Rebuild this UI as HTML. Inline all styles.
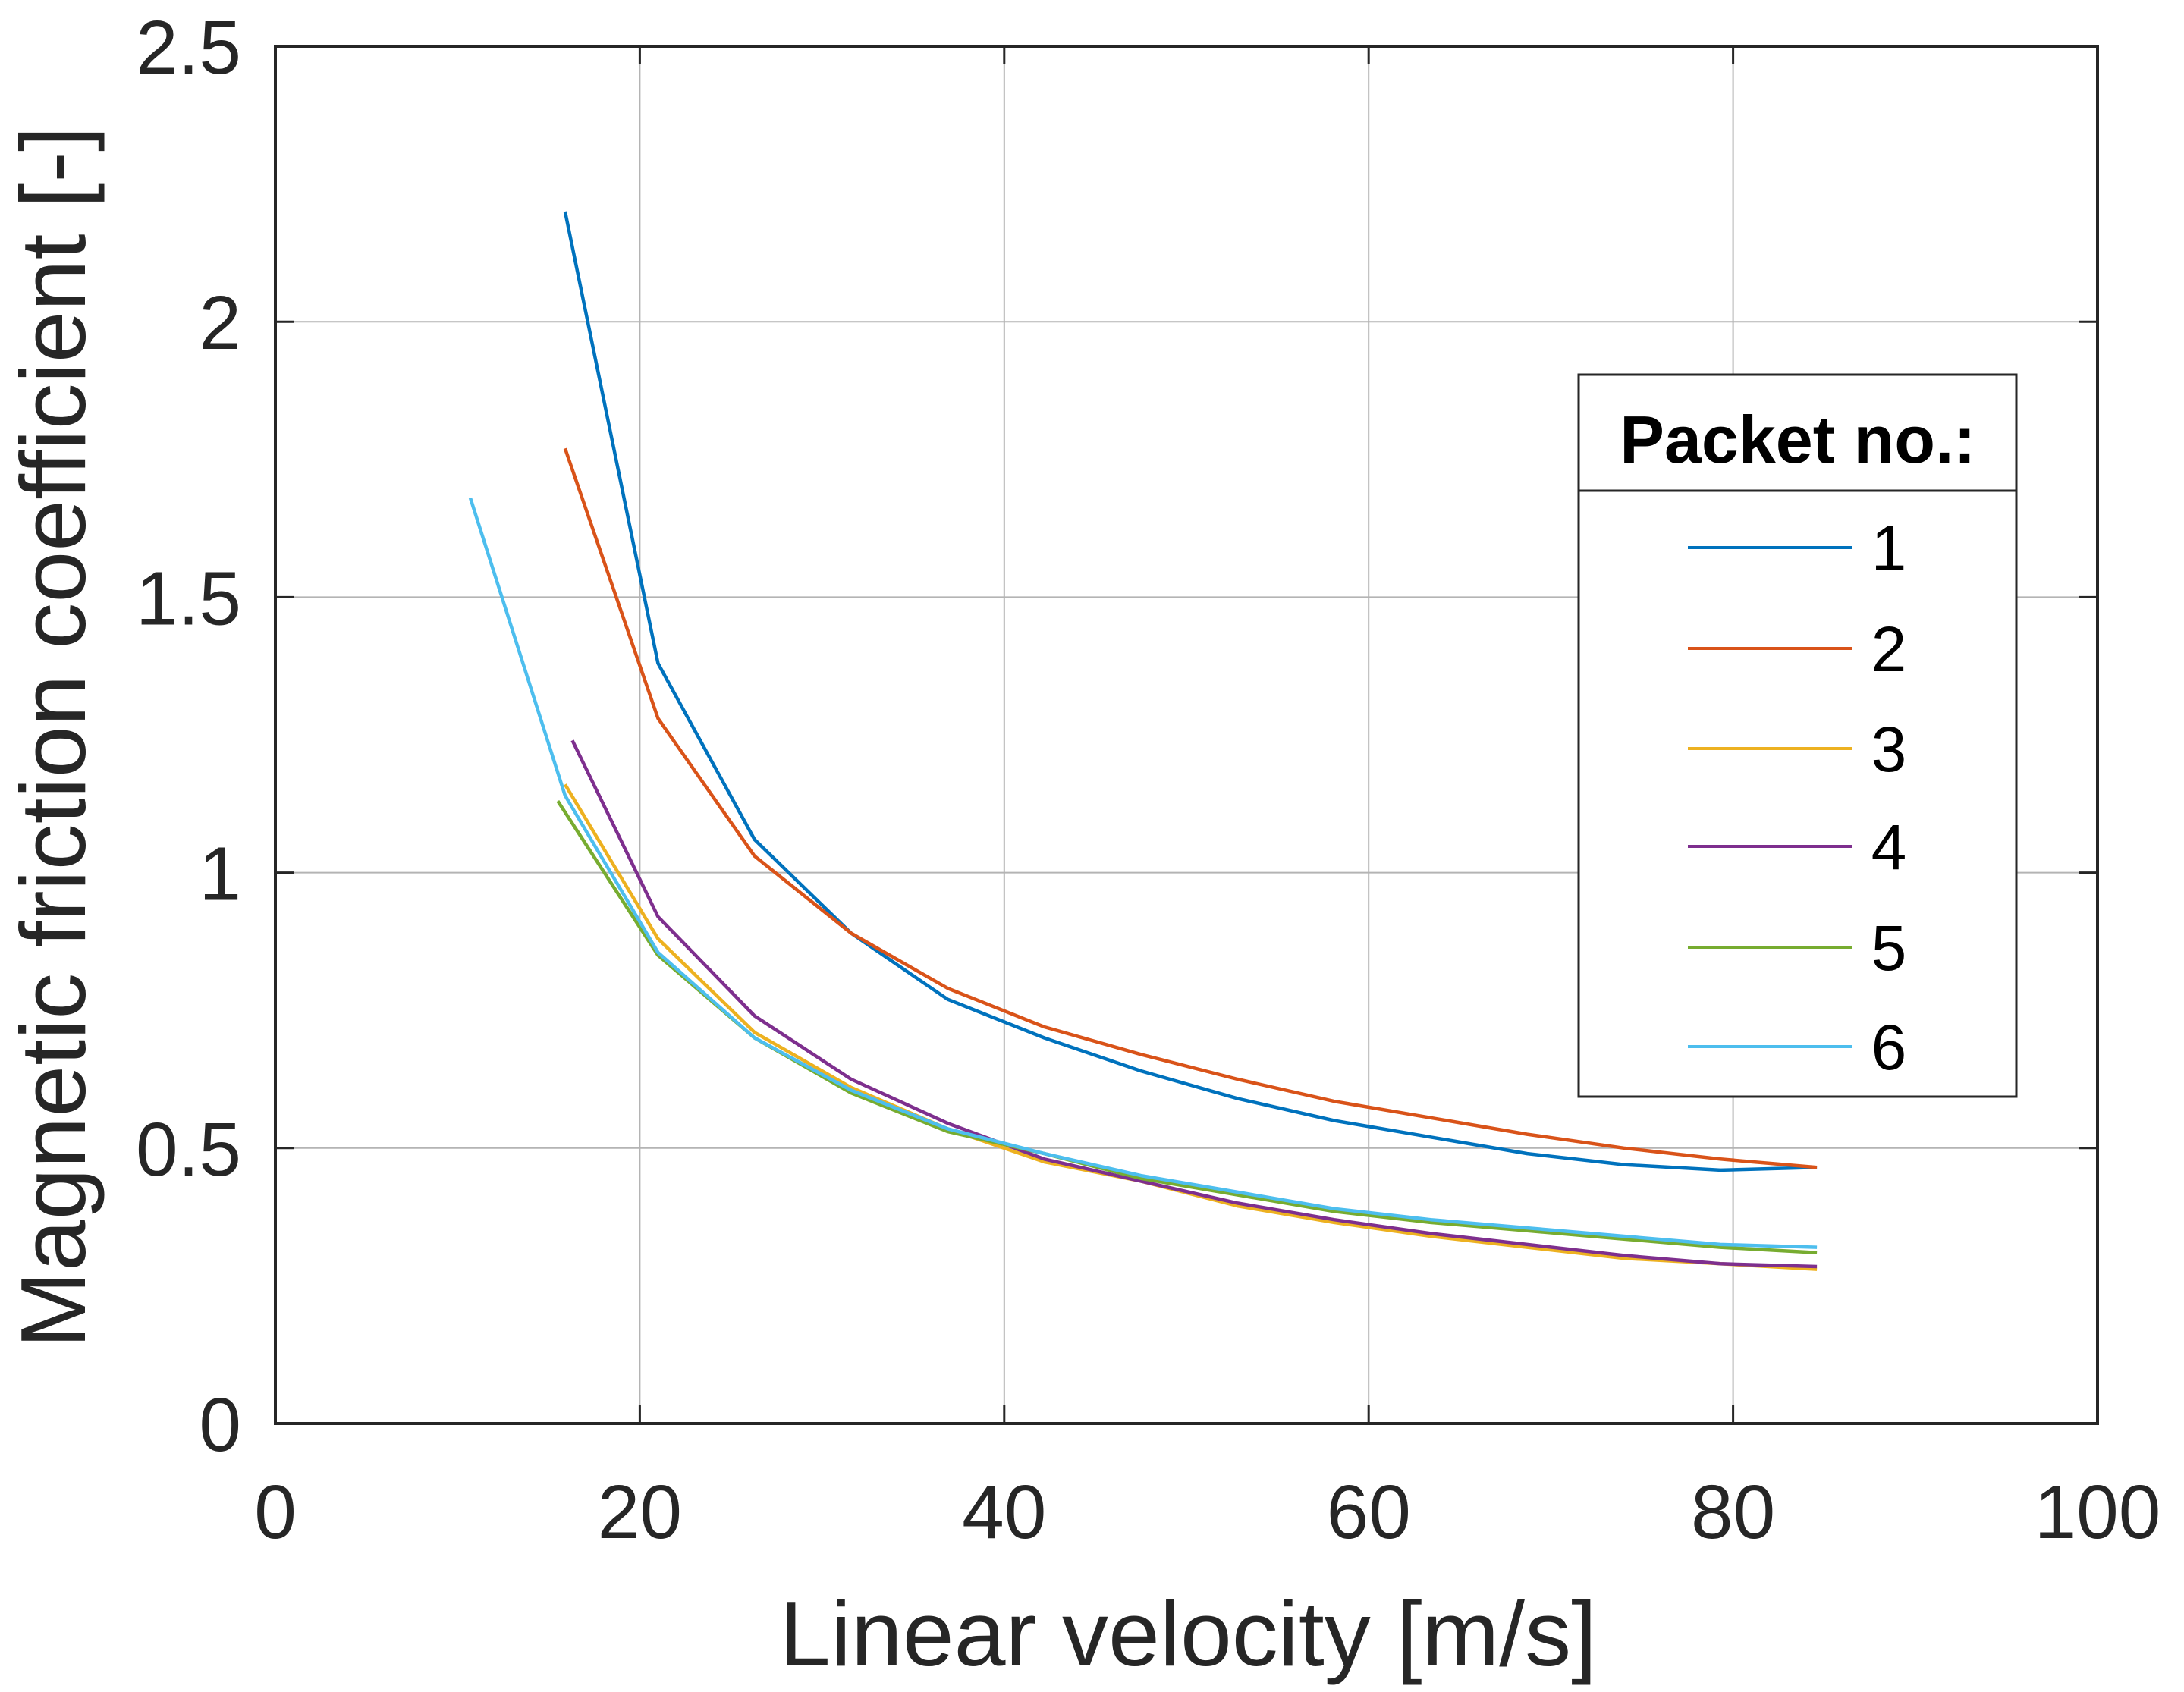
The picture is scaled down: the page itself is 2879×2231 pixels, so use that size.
<!DOCTYPE html>
<html><head><meta charset="utf-8"><style>
body{margin:0;background:#fff}
svg{display:block;font-family:"Liberation Sans",Arial,sans-serif}
</style></head><body>
<svg id="chart" width="2879" height="2231" xmlns="http://www.w3.org/2000/svg">
<rect width="2879" height="2231" fill="#fff"/>
<g id="grid"></g>
<g id="series"></g>
<g id="axes"></g>
<text x="1566" y="2196" font-size="122" text-anchor="middle" fill="#262626">Linear velocity [m/s]</text>
<text transform="translate(112,972) rotate(-90)" font-size="122" text-anchor="middle" fill="#262626">Magnetic friction coefficient [-]</text>
<g id="legend"></g>
</svg>
<script>
const xTicks=[0,20,40,60,80,100];
const yTicks=[0,0.5,1,1.5,2,2.5];
const yTickLabels=["0","0.5","1","1.5","2","2.5"];
const seriesNames=["1","2","3","4","5","6"];
const colors=["#0072BD","#D95319","#EDB120","#7E2F8E","#77AC30","#4DBEEE"];
const xCommon=[15.9,21.0,26.3,31.6,36.9,42.2,47.5,52.8,58.1,63.4,68.7,74.0,79.3,84.6];
const x4=[16.3,21.0,26.3,31.6,36.9,42.2,47.5,52.8,58.1,63.4,68.7,74.0,79.3,84.6];
const x5=[15.5,21.0,26.3,31.6,36.9,42.2,47.5,52.8,58.1,63.4,68.7,74.0,79.3,84.6];
const x6=[10.7,15.9,21.0,26.3,31.6,36.9,42.2,47.5,52.8,58.1,63.4,68.7,74.0,79.3,84.6];
const y1=[2.20,1.38,1.06,0.89,0.77,0.70,0.64,0.59,0.55,0.52,0.49,0.47,0.46,0.465];
const y2=[1.77,1.28,1.03,0.89,0.79,0.72,0.67,0.625,0.585,0.555,0.525,0.50,0.48,0.465];
const y3=[1.16,0.88,0.71,0.61,0.535,0.475,0.44,0.395,0.365,0.34,0.32,0.30,0.29,0.28];
const y4=[1.24,0.92,0.74,0.625,0.545,0.48,0.44,0.40,0.37,0.345,0.325,0.305,0.29,0.285];
const y5=[1.13,0.85,0.70,0.60,0.53,0.49,0.445,0.415,0.385,0.365,0.35,0.335,0.32,0.31];
const y6=[1.68,1.14,0.855,0.70,0.605,0.535,0.49,0.45,0.42,0.39,0.37,0.355,0.34,0.325,0.32];
const L=363,R=2765,T=61,B=1877;
const sx=v=>L+(v-0)/100*(R-L);
const sy=v=>B-(v-0)/2.5*(B-T);
const NS="http://www.w3.org/2000/svg";
function mk(tag,attrs,parent,text){const e=document.createElementNS(NS,tag);for(const k in attrs)e.setAttribute(k,attrs[k]);if(text!==undefined)e.textContent=text;parent.appendChild(e);return e;}
const grid=document.getElementById('grid'),axes=document.getElementById('axes');
xTicks.forEach(t=>{
  const g=mk('line',{x1:sx(t),x2:sx(t),y1:T,y2:B,stroke:'#b4b4b4','stroke-width':2},grid);
  
  
  const tk=mk('line',{x1:sx(t),x2:sx(t),y1:B,y2:B-24,stroke:'#262626','stroke-width':3},axes);
  
  
  const tk2=mk('line',{x1:sx(t),x2:sx(t),y1:T,y2:T+24,stroke:'#262626','stroke-width':3},axes);
  
  
  const lb=mk('text',{x:sx(t),y:2028,'font-size':100,'text-anchor':'middle',fill:'#262626'},axes,String(t));
  
  
});
yTicks.forEach((t,i)=>{
  const g=mk('line',{x1:L,x2:R,y1:sy(t),y2:sy(t),stroke:'#b4b4b4','stroke-width':2},grid);
  
  
  const tk=mk('line',{x1:L,x2:L+24,y1:sy(t),y2:sy(t),stroke:'#262626','stroke-width':3},axes);
  
  
  const tk2=mk('line',{x1:R,x2:R-24,y1:sy(t),y2:sy(t),stroke:'#262626','stroke-width':3},axes);
  
  
  const lb=mk('text',{x:318,y:sy(t)+36,'font-size':100,'text-anchor':'end',fill:'#262626'},axes,yTickLabels[i]);
  
  
});
const frame=mk('rect',{x:L,y:T,width:R-L,height:B-T,fill:'none',stroke:'#262626','stroke-width':4},axes);


const xs=[xCommon,xCommon,xCommon,x4,x5,x6], ys=[y1,y2,y3,y4,y5,y6];
const sg=document.getElementById('series');
ys.forEach((yy,i)=>{
  const pts=yy.map((v,j)=>sx(xs[i][j]).toFixed(1)+','+sy(v).toFixed(1)).join(' ');
  const p=mk('polyline',{points:pts,fill:'none',stroke:colors[i],'stroke-width':4.5,'stroke-linejoin':'round'},sg);
  
  
});
const lg=document.getElementById('legend');
const box=mk('rect',{x:2081,y:494,width:577,height:952,fill:'#fff',stroke:'#262626','stroke-width':3},lg);


const dv=mk('line',{x1:2081,x2:2658,y1:647,y2:647,stroke:'#262626','stroke-width':3},lg);


const tt=mk('text',{x:2370,y:610,'font-size':88,'font-weight':'bold','text-anchor':'middle',fill:'#000'},lg,'Packet no.:');


const ly=[722,855,987,1116,1249,1380];
seriesNames.forEach((n,i)=>{
  const l=mk('line',{x1:2225,x2:2442,y1:ly[i],y2:ly[i],stroke:colors[i],'stroke-width':4},lg);
  
  
  const t=mk('text',{x:2490,y:ly[i]+30,'font-size':84,'text-anchor':'middle',fill:'#000'},lg,n);
  
  
});
</script>
</body></html>
